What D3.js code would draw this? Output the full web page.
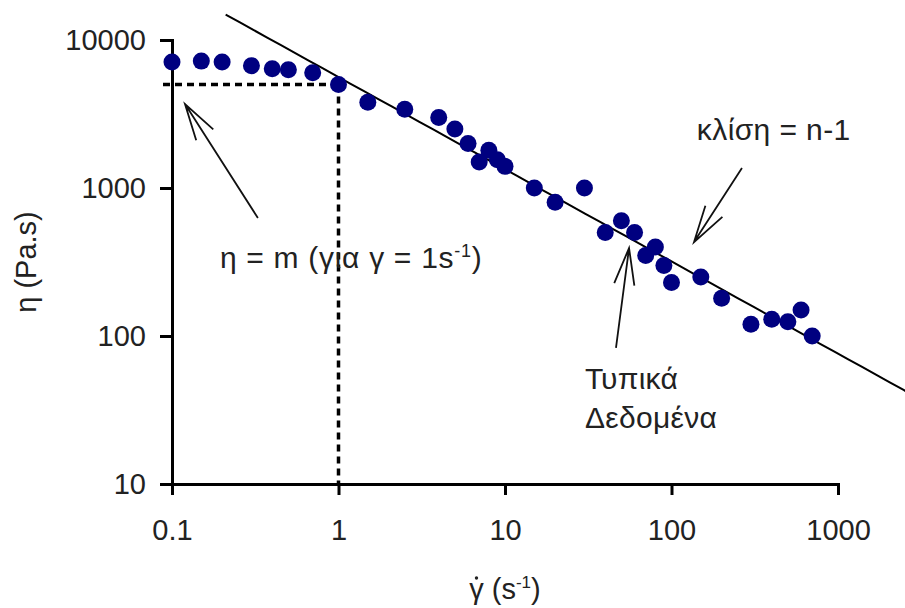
<!DOCTYPE html>
<head>
  <meta charset="utf-8">
  <script src="https://d3js.org/d3.v7.min.js"></script>
  <style>
    body { margin: 0; background: #fff; }

    text {
      font-family: "Liberation Sans", Arial, sans-serif;
      fill: #222;
    }

    .axis path, .axis line {
      stroke: #000;
      stroke-width: 3px;
    }

    .axis text {
      font-size: 29px;
      fill: #222;
    }

    .fit {
      fill: none;
      stroke: #000;
      stroke-width: 2px;
    }

    .guide {
      fill: none;
      stroke: #000;
      stroke-width: 3.5px;
      stroke-dasharray: 7,5;
    }

    .arrow {
      fill: none;
      stroke: #111;
      stroke-width: 1.8px;
    }

    .dot {
      fill: #000080;
    }
  </style>
</head>

<body>
  <script>
    // shear rate (1/s) and viscosity (Pa.s)
    var shearRate = [0.1, 0.15, 0.2, 0.3, 0.4, 0.5, 0.7, 1, 1.5, 2.5, 4, 5, 6, 7, 8, 9, 10,
                     15, 20, 30, 40, 50, 60, 70, 80, 90, 100, 150, 200, 300, 400, 500, 600, 700];
    var viscosity = [7100, 7200, 7100, 6700, 6400, 6300, 6000, 5000, 3800, 3400, 3000, 2500, 2000, 1500, 1800, 1550, 1400,
                     1000, 800, 1000, 500, 600, 500, 350, 400, 300, 230, 250, 180, 120, 130, 125, 150, 100];

    // power law fit eta = m * gamma^(n-1)
    var fitM = 5620,
        fitSlope = -0.623,
        fitRange = [0.21, 3000];

    // dashed guide: eta = m at gamma = 1
    var guideRate = 1,
        guideEta = 5000;

    var xTicks = [0.1, 1, 10, 100, 1000],
        xTickLabels = ["0.1", "1", "10", "100", "1000"];
    var yTicks = [10, 100, 1000, 10000],
        yTickLabels = ["10", "100", "1000", "10000"];

    var width = 905, height = 608;

    var svg = d3.select("body").append("svg")
      .attr("width", width)
      .attr("height", height);

    var x = d3.scaleLog()
      .domain([0.1, 1000])
      .range([172, 838]);

    var y = d3.scaleLog()
      .domain([10, 10000])
      .range([484, 40]);

    // dashed guide lines
    svg.append("path")
      .attr("class", "guide")
      .attr("d", "M" + (x(0.1) - 9) + "," + y(guideEta) + "H" + x(guideRate));
    svg.append("path")
      .attr("class", "guide")
      .attr("d", "M" + x(guideRate) + "," + y(guideEta) + "V" + y(10));

    // axes
    svg.append("g")
      .attr("class", "axis")
      .attr("transform", "translate(0," + y(10) + ")")
      .call(d3.axisBottom(x)
        .tickValues(xTicks)
        .tickFormat(function(d, i) { return xTickLabels[i]; })
        .tickSize(11)
        .tickSizeOuter(0)
        .tickPadding(24));

    svg.append("g")
      .attr("class", "axis")
      .attr("transform", "translate(" + x(0.1) + ",0)")
      .call(d3.axisLeft(y)
        .tickValues(yTicks)
        .tickFormat(function(d, i) { return yTickLabels[i]; })
        .tickSize(12)
        .tickSizeOuter(0)
        .tickPadding(14));

    svg.selectAll(".axis .domain").attr("stroke-linecap", "square");

    // fitted line
    var fitPts = d3.range(0, 51).map(function(i) {
      var g = fitRange[0] * Math.pow(fitRange[1] / fitRange[0], i / 50);
      return [g, fitM * Math.pow(g, fitSlope)];
    });
    svg.append("path")
      .attr("class", "fit")
      .attr("d", d3.line()
        .x(function(d) { return x(d[0]); })
        .y(function(d) { return y(d[1]); })(fitPts));

    // data points
    svg.append("g")
      .selectAll("circle")
      .data(shearRate)
      .enter().append("circle")
      .attr("class", "dot")
      .attr("cx", function(d) { return x(d); })
      .attr("cy", function(d, i) { return y(viscosity[i]); })
      .attr("r", 8.5);

    // annotation arrows, in data units: tail -> tip
    var arrows = [
      { from: [0.328, 627], to: [0.1197, 3695] },
      { from: [265, 1365], to: [136.5, 431] },
      { from: [46.4, 83], to: [55.6, 393] }
    ];

    function arrowPath(a) {
      var x0 = x(a.from[0]), y0 = y(a.from[1]),
          x1 = x(a.to[0]), y1 = y(a.to[1]);
      var ang = Math.atan2(y0 - y1, x0 - x1),
          len = 38, spread = 0.27;
      return "M" + x0 + "," + y0 + "L" + x1 + "," + y1 +
        "M" + (x1 + len * Math.cos(ang - spread)) + "," + (y1 + len * Math.sin(ang - spread)) +
        "L" + x1 + "," + y1 +
        "L" + (x1 + len * Math.cos(ang + spread)) + "," + (y1 + len * Math.sin(ang + spread));
    }

    svg.append("g")
      .selectAll("path")
      .data(arrows)
      .enter().append("path")
      .attr("class", "arrow")
      .attr("d", arrowPath);

    // labels
    var eq = svg.append("text")
      .attr("x", x(0.194))
      .attr("y", y(288))
      .style("font-size", "30px")
      .style("letter-spacing", "0.7px");
    eq.append("tspan").text("η = m (για γ = 1s");
    eq.append("tspan").attr("dy", -11).style("font-size", "18px").text("-1");
    eq.append("tspan").attr("dy", 11).text(")");

    svg.append("text")
      .attr("x", x(142))
      .attr("y", y(2110))
      .style("font-size", "30px")
      .style("letter-spacing", "0.4px")
      .text("κλίση = n-1");

    var typ = svg.append("text")
      .attr("x", x(30.2))
      .attr("y", y(43.8))
      .style("font-size", "30px")
      .style("letter-spacing", "0.3px");
    typ.append("tspan").text("Τυπικά");
    typ.append("tspan").attr("x", x(30.2)).attr("dy", 39).text("Δεδομένα");

    // axis titles
    svg.append("text")
      .attr("transform", "translate(36," + (y(10) + y(10000)) / 2 + ") rotate(-90)")
      .attr("text-anchor", "middle")
      .style("font-size", "29px")
      .text("η (Pa.s)");

    var xt = svg.append("text")
      .attr("x", (x(0.1) + x(1000)) / 2)
      .attr("y", 599)
      .attr("text-anchor", "middle")
      .style("font-size", "29px");
    xt.append("tspan").text("γ (s");
    xt.append("tspan").attr("dy", -11).style("font-size", "17px").text("-1");
    xt.append("tspan").attr("dy", 11).text(")");

    // rate dot over the gamma glyph
    var g0 = xt.node().getExtentOfChar(0);
    svg.append("circle")
      .attr("cx", g0.x + g0.width / 2)
      .attr("cy", 578)
      .attr("r", 1.7)
      .attr("fill", "#222");
  </script>
</body>
